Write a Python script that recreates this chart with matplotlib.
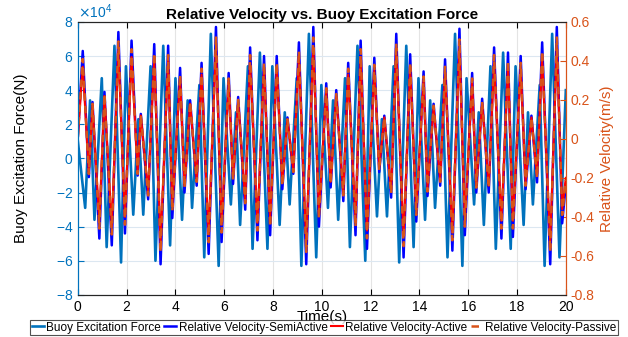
import numpy as np
import matplotlib
matplotlib.use('Agg')
import matplotlib.pyplot as plt
from matplotlib.ticker import FuncFormatter

plt.rcParams['font.family'] = ['Liberation Sans', 'DejaVu Sans']
plt.rcParams['axes.unicode_minus'] = False

# Buoy excitation force, turning points (N)
t_force = [0.0, 0.3, 0.5, 0.68, 0.98, 1.18, 1.5, 1.77, 1.97, 2.27,
           2.48, 2.68, 2.98, 3.18, 3.5, 3.78, 4.0, 4.27, 4.5, 4.68,
           4.98, 5.18, 5.45, 5.77, 5.97, 6.27, 6.48, 6.65, 6.97, 7.16,
           7.46, 7.77, 7.97, 8.27, 8.48, 8.68, 8.97, 9.16, 9.47, 9.77,
           9.98, 10.25, 10.46, 10.67, 10.95, 11.15, 11.46, 11.78, 11.96, 12.26,
           12.46, 12.67, 12.94, 13.17, 13.46, 13.76, 13.96, 14.23, 14.44, 14.64,
           14.94, 15.15, 15.46, 15.76, 15.93, 16.24, 16.43, 16.64, 16.91, 17.13,
           17.43, 17.74, 17.94, 18.27, 18.45, 18.65, 18.93, 19.13, 19.44, 19.74,
           20.0]
force = [10000, -29000, 34000, -36000, 47000, -52000, 66000, -61000, 54000, -33000,
         23000, -33000, 54000, -60000, 66000, -51000, 47000, -36000, 34000, -29000,
         43000, -58000, 73000, -63000, 47000, -27000, 27000, -39000, 54000, -53000,
         62000, -53000, 54000, -39000, 27000, -27000, 47000, -63000, 73000, -58000,
         43000, -29000, 34000, -36000, 47000, -52000, 66000, -60000, 54000, -34000,
         23000, -34000, 54000, -61000, 66000, -52000, 47000, -36000, 34000, -29000,
         43000, -58000, 73000, -63000, 47000, -27000, 27000, -39000, 54000, -53000,
         62000, -53000, 54000, -39000, 27000, -27000, 43000, -63000, 73000, -58000,
         40000]

# Relative velocity, turning points (m/s)
t_vel = [0.0, 0.2, 0.45, 0.6, 0.88, 1.09, 1.39, 1.66, 1.93, 2.2,
         2.45, 2.58, 2.88, 3.13, 3.39, 3.7, 3.87, 4.19, 4.37, 4.6,
         4.87, 5.07, 5.36, 5.66, 5.89, 6.18, 6.36, 6.57, 6.86, 7.06,
         7.36, 7.63, 7.88, 8.15, 8.38, 8.59, 8.83, 9.06, 9.36, 9.65,
         9.88, 10.18, 10.36, 10.59, 10.88, 11.08, 11.38, 11.59, 11.85, 12.15,
         12.35, 12.56, 12.84, 13.05, 13.35, 13.62, 13.87, 14.17, 14.33, 14.58,
         14.85, 15.05, 15.35, 15.64, 15.86, 16.16, 16.33, 16.57, 16.84, 17.06,
         17.36, 17.63, 17.83, 18.15, 18.35, 18.59, 18.82, 19.03, 19.36, 19.63,
         19.85, 20.0]
v_semi = [0.014, 0.451, -0.196, 0.189, -0.511, 0.241, -0.546, 0.548, -0.485, 0.504,
          -0.188, 0.128, -0.31, 0.486, -0.643, 0.478, -0.406, 0.364, -0.275, 0.198,
          -0.24, 0.39, -0.59, 0.574, -0.529, 0.338, -0.231, 0.215, -0.363, 0.469,
          -0.52, 0.425, -0.494, 0.425, -0.258, 0.11, -0.179, 0.495, -0.643, 0.574,
          -0.45, 0.285, -0.249, 0.25, -0.319, 0.39, -0.494, 0.504, -0.564, 0.416,
          -0.17, 0.119, -0.301, 0.539, -0.608, 0.434, -0.424, 0.346, -0.293, 0.18,
          -0.24, 0.408, -0.573, 0.565, -0.494, 0.338, -0.275, 0.206, -0.275, 0.469,
          -0.511, 0.443, -0.503, 0.425, -0.258, 0.119, -0.223, 0.495, -0.643, 0.574,
          -0.433, -0.231]
v_active = [0.01, 0.37, -0.17, 0.17, -0.42, 0.22, -0.45, 0.45, -0.40, 0.42,
            -0.17, 0.12, -0.27, 0.40, -0.53, 0.40, -0.34, 0.31, -0.24, 0.18,
            -0.21, 0.33, -0.49, 0.47, -0.44, 0.29, -0.20, 0.19, -0.31, 0.39,
            -0.43, 0.36, -0.41, 0.36, -0.22, 0.10, -0.16, 0.41, -0.53, 0.47,
            -0.38, 0.25, -0.22, 0.22, -0.28, 0.33, -0.41, 0.42, -0.47, 0.35,
            -0.15, 0.11, -0.26, 0.45, -0.50, 0.36, -0.36, 0.30, -0.25, 0.16,
            -0.21, 0.34, -0.48, 0.46, -0.41, 0.29, -0.24, 0.18, -0.24, 0.39,
            -0.42, 0.37, -0.42, 0.36, -0.22, 0.11, -0.19, 0.41, -0.53, 0.47,
            -0.36, -0.20]
v_passive = [0.01, 0.41, -0.18, 0.18, -0.46, 0.23, -0.49, 0.50, -0.44, 0.46,
             -0.18, 0.12, -0.29, 0.44, -0.58, 0.43, -0.37, 0.33, -0.25, 0.19,
             -0.22, 0.36, -0.53, 0.52, -0.48, 0.31, -0.21, 0.20, -0.33, 0.43,
             -0.47, 0.39, -0.45, 0.39, -0.24, 0.10, -0.17, 0.45, -0.58, 0.52,
             -0.41, 0.26, -0.23, 0.23, -0.29, 0.36, -0.45, 0.46, -0.51, 0.38,
             -0.16, 0.11, -0.28, 0.49, -0.55, 0.39, -0.39, 0.32, -0.27, 0.17,
             -0.22, 0.37, -0.52, 0.51, -0.45, 0.31, -0.25, 0.19, -0.25, 0.43,
             -0.46, 0.40, -0.46, 0.39, -0.24, 0.11, -0.20, 0.45, -0.58, 0.52,
             -0.39, -0.21]

x_ticks = [0, 2, 4, 6, 8, 10, 12, 14, 16, 18, 20]
left_ticks = [-80000, -60000, -40000, -20000, 0, 20000, 40000, 60000, 80000]
right_ticks = [-0.8, -0.6, -0.4, -0.2, 0, 0.2, 0.4, 0.6]

c_left = '#0072BD'
c_right = '#D95319'

fig = plt.figure(figsize=(6.28, 3.37), dpi=100)
ax = fig.add_axes([0.124, 0.125, 0.777, 0.810])
ax2 = ax.twinx()

# force on left axis
l1, = ax.plot(t_force, force, color=c_left, lw=1.9)
# velocities on right axis
l2, = ax2.plot(t_vel, v_semi, color='#0000FF', lw=1.8)
l3, = ax2.plot(t_vel, v_active, color='#FF0000', lw=1.5)
l4, = ax2.plot(t_vel, v_passive, color=c_right, lw=1.8, ls='--', dashes=(3, 2))

ax.set_xlim(0, 20)
ax.set_ylim(-80000, 80000)
ax2.set_ylim(-0.8, 0.6)
ax.set_xticks(x_ticks)
ax.set_yticks(left_ticks)
ax2.set_yticks(right_ticks)

ax.ticklabel_format(axis='y', style='sci', scilimits=(4, 4), useMathText=True)
ax.yaxis.get_offset_text().set_color(c_left)
ax.yaxis.get_offset_text().set_fontsize(10)
ax2.yaxis.set_major_formatter(FuncFormatter(lambda v, p: '%g' % round(v, 2)))

ax.xaxis.grid(True, color='#e4e4e4', lw=0.8)
ax.yaxis.grid(True, color='#dce7f1', lw=0.8)
ax.set_axisbelow(True)

ax.tick_params(axis='x', direction='in', top=True, length=4, labelsize=10, pad=4)
ax.tick_params(axis='y', direction='in', colors=c_left, length=4, labelsize=10)
ax2.tick_params(axis='y', direction='in', colors=c_right, length=4, labelsize=10)

ax.spines['left'].set_color(c_left)
ax2.spines['left'].set_color(c_left)
ax.spines['right'].set_color(c_right)
ax2.spines['right'].set_color(c_right)
for a in (ax, ax2):
    a.spines['top'].set_color('#262626')
    a.spines['bottom'].set_color('#262626')

ax.set_title('Relative Velocity vs. Buoy Excitation Force', fontsize=11,
             fontweight='bold', pad=2)
ax.set_xlabel('Time(s)', fontsize=11, labelpad=-3)
ax.set_ylabel('Buoy Excitation Force(N)', fontsize=11, color='black', labelpad=20)
ax2.set_ylabel('Relative Velocity(m/s)', fontsize=11, color=c_right, labelpad=4)

leg = fig.legend([l1, l2, l3, l4],
                 ['Buoy Excitation Force', 'Relative Velocity-SemiActive',
                  'Relative Velocity-Active', 'Relative Velocity-Passive'],
                 loc='lower center', bbox_to_anchor=(0.516, 0.005), ncol=4,
                 fontsize=8.5, frameon=True, fancybox=False, borderpad=0.15,
                 handlelength=1.0, handletextpad=0.2, columnspacing=0.3,
                 borderaxespad=0.0)
leg.get_frame().set_edgecolor('#262626')
leg.get_frame().set_linewidth(0.8)

fig.savefig('out.png', dpi=100)
